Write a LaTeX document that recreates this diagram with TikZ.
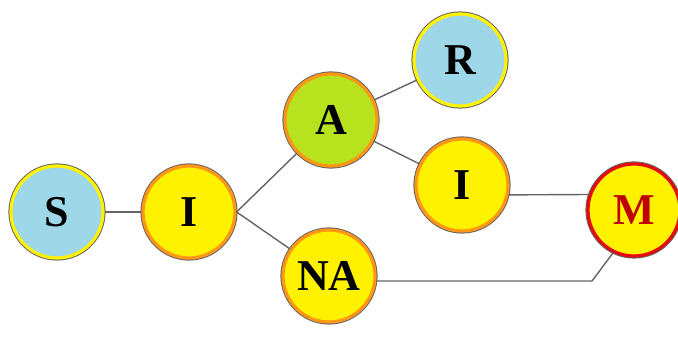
\documentclass[tikz,border=0pt]{standalone}
\usepackage{fontspec}
\setmainfont{Liberation Serif}
\usetikzlibrary{positioning, calc}
\usepackage{xcolor}
\definecolor{ball-blue}{RGB}{158,216,232}
\definecolor{ball-yellow}{RGB}{255,242,0}
\definecolor{ball-lime}{RGB}{182,227,30}
\definecolor{ring-orange}{RGB}{255,150,20}
\definecolor{ring-red}{RGB}{230,10,10}
\definecolor{edge-gray}{RGB}{100,100,100}

\tikzset{
	ball/.style 2 args={circle, minimum size=46pt, inner sep=0pt, fill=#1, draw=#2, line width=1.6pt,
		preaction={draw=black!60, line width=2.6pt},
		font=\fontsize{22}{24}\selectfont\bfseries},
	link/.style={edge-gray, line width=0.7pt}
}

\begin{document}
\begin{tikzpicture}[x=0.5pt, y=-0.5pt]
					\useasboundingbox (0,0) rectangle (678,340);
					\node[ball={ball-blue}{ball-yellow}] at (57,212) (s) {S};
					\node[ball={ball-yellow}{ring-orange}] at (189,212) (i) {I};
					\node[ball={ball-lime}{ring-orange}] at (331,120) (a) {A};
					\node[ball={ball-blue}{ball-yellow}] at (460,60) (r) {R};
					\node[ball={ball-yellow}{ring-orange}] at (462,185) (ii) {I};
					\node[ball={ball-yellow}{ring-orange}] at (329,276) (na) {NA};
					\node[ball={ball-yellow}{ring-red}, text=red!75!black] at (634,210) (m) {M};
					
					\coordinate (bend) at (592,281);
					
					\draw[link] (s) -- (i);
					\draw[link] (i.east) -- (a);
					\draw[link] (i.east) -- (na);
					\draw[link] (a) -- (r);
					\draw[link] (a) -- (ii);
					\draw[link] (ii.-12) -- (m.161);
					\draw[link] (na.-6) -- (bend) -- (m.-116);
				\end{tikzpicture}
\end{document}
